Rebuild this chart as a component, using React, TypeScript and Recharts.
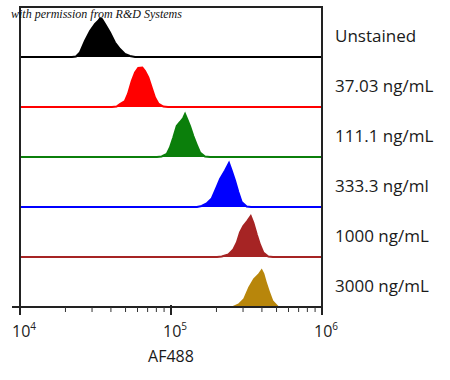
import { AreaChart, Area, XAxis, YAxis } from 'recharts';

document.body.style.margin = '0';

// x = log10(AF488 intensity), c = relative count (100 = full row)
const labels = ['Unstained', '37.03 ng/mL', '111.1 ng/mL', '333.3 ng/ml', '1000 ng/mL', '3000 ng/mL'];
const colors = ['#000000', '#ff0000', '#0b7f0b', '#0000ff', '#a62424', '#b8860b'];

const unstained: [number, number][] = [
  [4, 0], [4.344, 0], [4.371, 1], [4.397, 9], [4.43, 32], [4.464, 52], [4.497, 66], [4.517, 72],
  [4.53, 77], [4.543, 76], [4.563, 66], [4.596, 49], [4.629, 29], [4.662, 16], [4.695, 6],
  [4.728, 2], [4.762, 0], [6, 0],
];
const ng37: [number, number][] = [
  [4, 0], [4.609, 0], [4.64, 1], [4.662, 6], [4.695, 12], [4.715, 26], [4.74, 52], [4.762, 69],
  [4.783, 78], [4.81, 79], [4.828, 72], [4.85, 59], [4.872, 39], [4.894, 19], [4.916, 7],
  [4.949, 1], [4.98, 0], [6, 0],
];
const ng111: [number, number][] = [
  [4, 0], [4.907, 0], [4.938, 1], [4.972, 6], [4.993, 19], [5.015, 39], [5.038, 62], [5.06, 70],
  [5.081, 78], [5.093, 86], [5.108, 75], [5.126, 62], [5.148, 42], [5.17, 25], [5.192, 9],
  [5.225, 1], [5.258, 0], [6, 0],
];
const ng333: [number, number][] = [
  [4, 0], [5.172, 0], [5.203, 2], [5.236, 7], [5.27, 17], [5.303, 40], [5.325, 56], [5.358, 73],
  [5.384, 88], [5.402, 73], [5.424, 53], [5.446, 30], [5.468, 10], [5.501, 1], [5.53, 0], [6, 0],
];
const ng1000: [number, number][] = [
  [4, 0], [5.305, 0], [5.336, 1], [5.38, 5], [5.413, 15], [5.436, 29], [5.457, 49], [5.479, 62],
  [5.505, 72], [5.528, 82], [5.545, 69], [5.568, 45], [5.589, 25], [5.611, 9], [5.644, 1],
  [5.675, 0], [6, 0],
];
const ng3000: [number, number][] = [
  [4, 0], [5.371, 0], [5.402, 1], [5.446, 7], [5.479, 17], [5.512, 40], [5.545, 57], [5.578, 67],
  [5.601, 77], [5.618, 67], [5.634, 50], [5.656, 30], [5.677, 13], [5.711, 2], [5.742, 0], [6, 0],
];
const series = [unstained, ng37, ng111, ng333, ng1000, ng3000];

const decades = [4, 5];
const minorSteps = [2, 3, 4, 5, 6, 7, 8, 9];
const ticks = decades.flatMap((d) => [d, ...minorSteps.map((k) => d + Math.log10(k))]).concat(6);

const font = '"Open Sans", sans-serif';

function AxisTick({ x, y, payload }: any) {
  const v = payload.value;
  const major = Math.abs(v - Math.round(v)) < 1e-6;
  if (!major) {
    return <line x1={x} x2={x} y1={y} y2={y + 5} stroke="#333" strokeWidth={1} />;
  }
  return (
    <g>
      <line x1={x} x2={x} y1={y - 2} y2={y + 8} stroke="#222" strokeWidth={2} />
      <text x={x + 4} y={y + 30} textAnchor="middle" fontFamily={font} fontSize={16} fill="#222">
        10<tspan dy={-7} fontSize={10}>{Math.round(v)}</tspan>
      </text>
    </g>
  );
}

function Row({ i }: { i: number }) {
  const last = i === series.length - 1;
  const data = series[i].map(([x, c]) => ({ x, c }));
  return (
    <div style={{ position: 'absolute', left: 0, top: last ? 257 : 8 + 50 * i }}>
      <AreaChart
        width={450}
        height={last ? 120 : 50}
        data={data}
        margin={{ top: 0, right: 128, bottom: 0, left: 20 }}
      >
        <XAxis
          dataKey="x"
          type="number"
          domain={[4, 6]}
          ticks={ticks}
          allowDataOverflow
          hide={!last}
          height={70}
          tickSize={0}
          tickMargin={0}
          interval={0}
          axisLine={{ stroke: '#222', strokeWidth: 2 }}
          tick={<AxisTick />}
        />
        <YAxis hide domain={last ? [0, 100] : [-2, 98]} allowDataOverflow />
        <Area
          type="linear"
          dataKey="c"
          stroke={last ? 'none' : colors[i]}
          strokeWidth={2}
          fill={colors[i]}
          fillOpacity={1}
          isAnimationActive={false}
        />
      </AreaChart>
    </div>
  );
}

export default function App() {
  return (
    <div style={{ position: 'relative', width: 450, height: 380, background: '#fff', overflow: 'hidden' }}>
      {series.map((_, i) => (
        <Row key={i} i={i} />
      ))}
      <div
        style={{
          position: 'absolute', left: 19, top: 6, width: 300, height: 299,
          borderLeft: '2px solid #222', borderRight: '2px solid #222', borderTop: '2px solid #222',
        }}
      />
      <div style={{ position: 'absolute', left: 12, top: 306, width: 8, height: 2, background: '#222' }} />
      <div
        style={{
          position: 'absolute', left: 11, top: 7, fontFamily: '"Liberation Serif", serif',
          fontStyle: 'italic', fontSize: 12, lineHeight: '14px', color: '#111', whiteSpace: 'nowrap',
        }}
      >
        with permission from R&amp;D Systems
      </div>
      {labels.map((t, i) => (
        <div
          key={t}
          style={{
            position: 'absolute', left: 335, top: 27 + 50 * i, fontFamily: font, fontSize: 17,
            lineHeight: '17px', color: '#1a1a1a', whiteSpace: 'nowrap',
          }}
        >
          {t}
        </div>
      ))}
      <div
        style={{
          position: 'absolute', left: 71, top: 348, width: 200, textAlign: 'center', fontFamily: font,
          fontSize: 16, lineHeight: '16px', color: '#1a1a1a',
        }}
      >
        AF488
      </div>
    </div>
  );
}
